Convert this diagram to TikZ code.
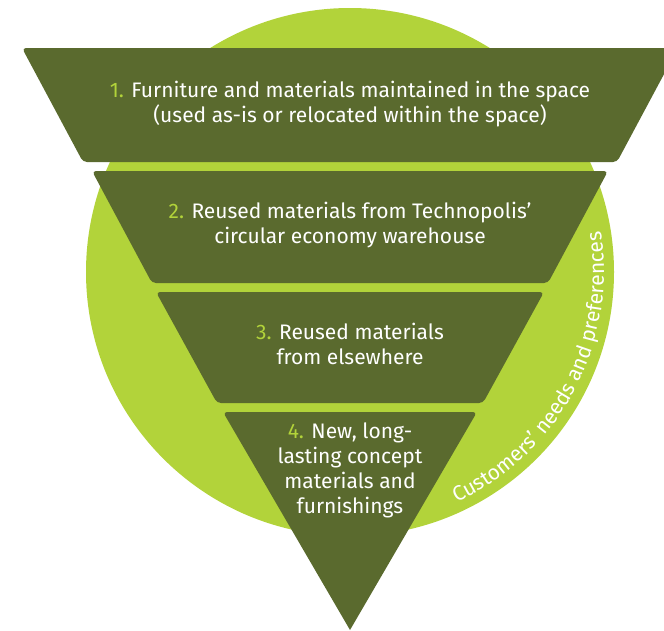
\documentclass[tikz,border=0pt]{standalone}
\usepackage{fontspec}
\setmainfont{Fira Sans}
\usetikzlibrary{decorations.text}
\definecolor{bandgreen}{RGB}{90,106,46}
\definecolor{ringgreen}{RGB}{178,211,58}
\newcommand{\stepno}[1]{\textcolor{ringgreen}{#1}}

\begin{document}
\begin{tikzpicture}[x=1pt,y=-1pt,
    band/.style={fill=bandgreen,rounded corners=4pt},
    bandtext/.style={text=white,align=center,font=\fontsize{21}{25}\selectfont}]
        \useasboundingbox (0,0) rectangle (664,630);
        \clip (0,0) rectangle (664,630);
        % circle behind the funnel
        \coordinate (mid) at (350,272);
        \fill[ringgreen] (mid) circle[radius=264];
        % funnel bands
        \fill[band] (22,48) -- (678,48) -- (617,162) -- (83,162) -- cycle;
        \fill[band] (92,171) -- (608,171) -- (548,283) -- (152,283) -- cycle;
        \fill[band] (156,292) -- (544,292) -- (483,403) -- (217,403) -- cycle;
        \fill[bandgreen] (350,630) [rounded corners=4pt] -- (223,412) -- (477,412) [sharp corners] -- cycle;
        % texts
        \node[bandtext] (step1) at (350,104) {\stepno{1.} Furniture and materials maintained in the space\\(used as-is or relocated within the space)};
        \node[bandtext] (step2) at (350,225) {\stepno{2.} Reused materials from Technopolis’\\circular economy warehouse};
        \node[bandtext] (step3) at (350,344) {\stepno{3.} Reused materials\\from elsewhere};
        \node[bandtext] (step4) at (350,470) {\stepno{4.} New, long-\\lasting concept\\materials and\\furnishings};
        % text round the circle
        \path[decorate,decoration={text along path,text color=white,text align=center,
            text={|\fontsize{21}{21}\selectfont|Customers’ needs and preferences}}]
            ([shift={(72:254)}]mid) arc[start angle=72,end angle=-16,radius=254];
\end{tikzpicture}
\end{document}
